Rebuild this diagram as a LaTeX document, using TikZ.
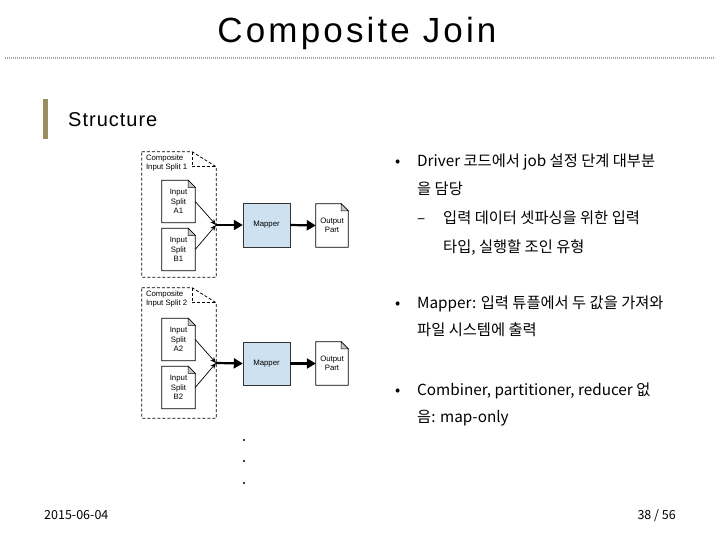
\documentclass[tikz,border=0pt]{standalone}
\usepackage{fontspec}
\setmainfont{Liberation Sans}
\newfontfamily\kor{Noto Sans CJK KR}
\usetikzlibrary{arrows.meta,shadows}

\definecolor{barolive}{RGB}{153,143,94}
\definecolor{mapblue}{RGB}{205,225,240}

\tikzset{
  splitgroup/.style={minimum width=74pt, inner sep=0pt},
  grouplabel/.style={anchor=north west, inner sep=0pt, align=left, font=\fontsize{7.8}{9}\selectfont},
  inpage/.style={minimum width=33pt, minimum height=42pt, inner sep=0pt, align=center, font=\fontsize{7.8}{9.5}\selectfont},
  mapbox/.style={draw=black!80, fill=mapblue, minimum width=47pt, minimum height=44pt, font=\fontsize{7.8}{9.5}\selectfont,
    drop shadow={shadow xshift=1pt, shadow yshift=-1pt, opacity=0.35}},
  feed/.style={-{Stealth[length=6pt,width=5pt]}, line width=0.7pt},
  flow/.style={-{Triangle[length=9pt,width=10pt]}, line width=2.2pt},
  bodytext/.style={anchor=base west, inner sep=0pt, font=\kor\fontsize{15.3}{18}\selectfont},
  foottext/.style={inner sep=0pt, font=\kor\fontsize{12.5}{14}\selectfont},
}

% outline of a page with a folded top right corner
\newcommand{\pageedge}[4]{%
  \draw[#4] (#1.north west) -- ([xshift=-#2]#1.north east) -- ([yshift=-#3]#1.north east)
    -- (#1.south east) -- (#1.south west) -- cycle;
}

\begin{document}
\begin{tikzpicture}[x=1pt, y=-1pt]
    \useasboundingbox (0,0) rectangle (720,540);

    % title and rule
    \node[anchor=base, font=\fontsize{35}{40}\selectfont\addfontfeature{LetterSpace=9}] (title) at (357,43) {Composite Join};
    \draw[gray!70, line width=2.5pt, dash pattern=on 1.2pt off 0.8pt] (5,58) -- (715,58);
    \fill[barolive] (43,99) rectangle (48,139);
    \node[anchor=base west, inner sep=0pt, font=\fontsize{20}{24}\selectfont\addfontfeature{LetterSpace=5}] (structure) at (68,127) {Structure};

    % first composite split
    \node[splitgroup, minimum height=125pt] (grp1) at (179,214.5) {};
    \pageedge{grp1}{24pt}{15pt}{dash pattern=on 3pt off 2pt, line width=0.8pt}
    \draw[dash pattern=on 3pt off 2pt, line width=0.8pt] ([xshift=-24pt]grp1.north east) |- ([yshift=-15pt]grp1.north east);
    \node[grouplabel] (lab1) at ([xshift=4pt,yshift=-3pt]grp1.north west) {Composite\\Input Split 1};
    \node[inpage] (splitA1) at (178.5,201.5) {Input\\Split\\A1};
    \pageedge{splitA1}{7pt}{7pt}{line width=0.7pt}
    \filldraw[fill=gray!45, line width=0.5pt] ([xshift=-7pt]splitA1.north east) |- ([yshift=-7pt]splitA1.north east) -- cycle;
    \node[inpage] (splitB1) at (178.5,249.5) {Input\\Split\\B1};
    \pageedge{splitB1}{7pt}{7pt}{line width=0.7pt}
    \filldraw[fill=gray!45, line width=0.5pt] ([xshift=-7pt]splitB1.north east) |- ([yshift=-7pt]splitB1.north east) -- cycle;
    \coordinate (join1) at (216,225);
    \node[mapbox] (map1) at (266.5,225) {Mapper};
    \node[inpage, minimum width=32pt, minimum height=43pt] (out1) at (332,225.5) {Output\\Part};
    \pageedge{out1}{7pt}{7pt}{line width=0.7pt}
    \filldraw[fill=gray!45, line width=0.5pt] ([xshift=-7pt]out1.north east) |- ([yshift=-7pt]out1.north east) -- cycle;
    \draw[feed] (splitA1.east) -- (join1);
    \draw[feed] (splitB1.east) -- (join1);
    \draw[flow] (join1) -- (map1.west);
    \draw[flow] (map1.east) -- (out1.west);

    % second composite split
    \node[splitgroup, minimum height=130pt] (grp2) at (179,353) {};
    \pageedge{grp2}{24pt}{15pt}{dash pattern=on 3pt off 2pt, line width=0.8pt}
    \draw[dash pattern=on 3pt off 2pt, line width=0.8pt] ([xshift=-24pt]grp2.north east) |- ([yshift=-15pt]grp2.north east);
    \node[grouplabel] (lab2) at ([xshift=4pt,yshift=-3pt]grp2.north west) {Composite\\Input Split 2};
    \node[inpage] (splitA2) at (178.5,339.5) {Input\\Split\\A2};
    \pageedge{splitA2}{7pt}{7pt}{line width=0.7pt}
    \filldraw[fill=gray!45, line width=0.5pt] ([xshift=-7pt]splitA2.north east) |- ([yshift=-7pt]splitA2.north east) -- cycle;
    \node[inpage] (splitB2) at (178.5,387.5) {Input\\Split\\B2};
    \pageedge{splitB2}{7pt}{7pt}{line width=0.7pt}
    \filldraw[fill=gray!45, line width=0.5pt] ([xshift=-7pt]splitB2.north east) |- ([yshift=-7pt]splitB2.north east) -- cycle;
    \coordinate (join2) at (216,363);
    \node[mapbox, minimum height=43pt] (map2) at (266.5,363.5) {Mapper};
    \node[inpage, minimum width=32pt, minimum height=43pt] (out2) at (332,363.5) {Output\\Part};
    \pageedge{out2}{7pt}{7pt}{line width=0.7pt}
    \filldraw[fill=gray!45, line width=0.5pt] ([xshift=-7pt]out2.north east) |- ([yshift=-7pt]out2.north east) -- cycle;
    \draw[feed] (splitA2.east) -- (join2);
    \draw[feed] (splitB2.east) -- (join2);
    \draw[flow] (join2) -- (map2.west);
    \draw[flow] (map2.east) -- (out2.west);

    % more splits follow
    \fill (244,440) circle[radius=1.1];
    \fill (244,461) circle[radius=1.1];
    \fill (244,483) circle[radius=1.1];

    % bullet text
    \node[bodytext] (dot1) at (395,167) {•};
    \node[bodytext] (line1) at (417,167) {Driver 코드에서 job 설정 단계 대부분};
    \node[bodytext] (line2) at (417,195) {을 담당};
    \node[bodytext] (dash1) at (417,223) {–};
    \node[bodytext] (line3) at (443,223) {입력 데이터 셋파싱을 위한 입력};
    \node[bodytext] (line4) at (443,252) {타입, 실행할 조인 유형};
    \node[bodytext] (dot2) at (395,308) {•};
    \node[bodytext] (line5) at (417,308) {Mapper: 입력 튜플에서 두 값을 가져와};
    \node[bodytext] (line6) at (417,335) {파일 시스템에 출력};
    \node[bodytext] (dot3) at (395,395) {•};
    \node[bodytext] (line7) at (417,395) {Combiner, partitioner, reducer 없};
    \node[bodytext] (line8) at (417,422) {음: map-only};

    % footer
    \node[foottext, anchor=base west] (date) at (44,519) {2015-06-04};
    \node[foottext, anchor=base east] (page) at (676,519) {38 / 56};
\end{tikzpicture}
\end{document}
